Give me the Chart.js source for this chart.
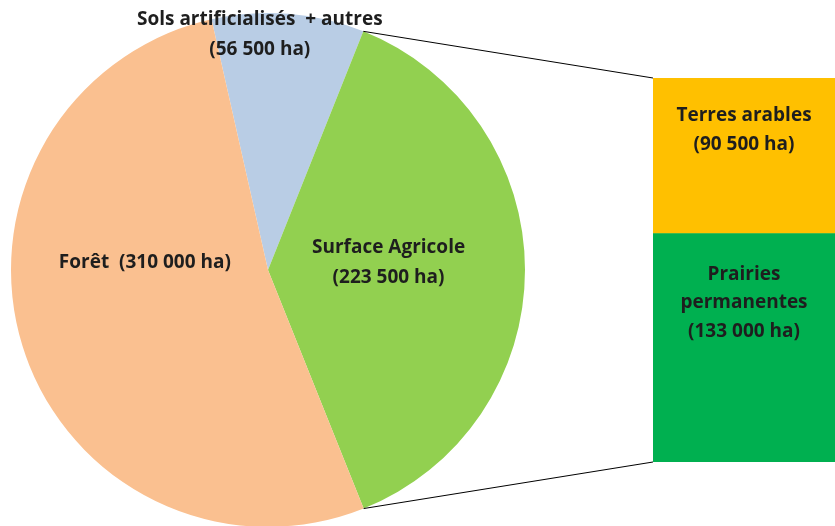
<!DOCTYPE html>
<html>
<head>
<meta charset="utf-8">
<script src="https://cdn.jsdelivr.net/npm/chart.js@4"></script>
<style>
  body { margin: 0; background: #fff; width: 835px; height: 526px; overflow: hidden; position: relative; }
  canvas { position: absolute; }
  #pie { left: 0; top: 0; }
  #bar { left: 653px; top: 78px; }
  #links { left: 0; top: 0; pointer-events: none; }
</style>
</head>
<body>
<canvas id="pie" width="540" height="540"></canvas>
<canvas id="bar" width="182" height="384"></canvas>
<canvas id="links" width="835" height="526"></canvas>
<script>
// pie : occupation du sol
const pieLabels = ["Sols artificialisés  + autres", "Surface Agricole", "Forêt"];
const pieValues = [56500, 223500, 310000];
const pieColors = ["#B9CDE5", "#92D050", "#FAC090"];

// barre : détail de la surface agricole
const barLabels = ["Prairies permanentes", "Terres arables"];
const barValues = [133000, 90500];
const barColors = ["#00B050", "#FFC000"];

const FONT = "bold 19px 'Open Sans', Lato, sans-serif";
const TEXT_COLOR = "#1e1e1e";

function ha(v) {
  return "(" + String(v).replace(/\B(?=(\d{3})+(?!\d))/g, " ") + " ha)";
}

function drawLines(ctx, lines, x, y, lh) {
  ctx.save();
  ctx.font = FONT;
  ctx.fillStyle = TEXT_COLOR;
  ctx.textAlign = "center";
  ctx.textBaseline = "middle";
  lines.forEach((t, i) => ctx.fillText(t, x, y + i * lh));
  ctx.restore();
}

// texte des parts du camembert (angle depuis le haut, fraction du rayon)
const pieLabelPlugin = {
  id: "pieLabels",
  afterDatasetsDraw(chart) {
    const pos = [[-2, 0.915], [86.5, 0.47], [273.5, 0.48]];
    const lines = [
      [pieLabels[0], ha(pieValues[0])],
      [pieLabels[1], ha(pieValues[1])],
      [pieLabels[2] + "  " + ha(pieValues[2])]
    ];
    chart.getDatasetMeta(0).data.forEach((arc, i) => {
      const a = pos[i][0] * Math.PI / 180;
      const r = arc.outerRadius * pos[i][1];
      const cx = arc.x + r * Math.sin(a);
      const cy = arc.y - r * Math.cos(a);
      const lh = 30;
      drawLines(chart.ctx, lines[i], cx, cy - (lines[i].length - 1) * lh / 2, lh);
    });
  }
};

const barLabelPlugin = {
  id: "barLabels",
  afterDatasetsDraw(chart) {
    const lines = [
      ["Prairies", "permanentes", ha(barValues[0])],
      ["Terres arables", ha(barValues[1])]
    ];
    const offsets = [41, 38];
    chart.data.datasets.forEach((ds, i) => {
      const bar = chart.getDatasetMeta(i).data[0];
      const top = Math.min(bar.y, bar.base);
      drawLines(chart.ctx, lines[i], bar.x, top + offsets[i], 28.5);
    });
  }
};

const pieChart = new Chart(document.getElementById("pie"), {
  type: "pie",
  data: {
    labels: pieLabels,
    datasets: [{
      data: pieValues,
      backgroundColor: pieColors,
      borderWidth: 0
    }]
  },
  options: {
    responsive: false,
    animation: false,
    rotation: -12.7,
    layout: { padding: { left: 11, top: 13, right: 15, bottom: 13 } },
    plugins: { legend: { display: false }, tooltip: { enabled: false } }
  },
  plugins: [pieLabelPlugin]
});

const barChart = new Chart(document.getElementById("bar"), {
  type: "bar",
  data: {
    labels: ["Surface Agricole"],
    datasets: barLabels.map((l, i) => ({
      label: l,
      data: [barValues[i]],
      backgroundColor: barColors[i],
      borderWidth: 0,
      barPercentage: 1,
      categoryPercentage: 1
    }))
  },
  options: {
    responsive: false,
    animation: false,
    layout: { padding: 0 },
    scales: {
      x: { stacked: true, display: false },
      y: { stacked: true, display: false, min: 0, max: barValues[0] + barValues[1] }
    },
    plugins: { legend: { display: false }, tooltip: { enabled: false } }
  },
  plugins: [barLabelPlugin]
});

// traits reliant la part agricole à la barre
function drawLinks() {
  const ctx = document.getElementById("links").getContext("2d");
  const pr = document.getElementById("pie").getBoundingClientRect();
  const br = document.getElementById("bar").getBoundingClientRect();
  const arc = pieChart.getDatasetMeta(0).data[1];
  const p1 = [pr.left + arc.x + arc.outerRadius * Math.cos(arc.startAngle),
              pr.top + arc.y + arc.outerRadius * Math.sin(arc.startAngle)];
  const p2 = [pr.left + arc.x + arc.outerRadius * Math.cos(arc.endAngle),
              pr.top + arc.y + arc.outerRadius * Math.sin(arc.endAngle)];
  const bottom = barChart.getDatasetMeta(0).data[0];
  const top = barChart.getDatasetMeta(1).data[0];
  const left = br.left + top.x - top.width / 2;
  ctx.strokeStyle = "#000";
  ctx.lineWidth = 1;
  ctx.beginPath();
  ctx.moveTo(p1[0], p1[1]);
  ctx.lineTo(left, br.top + top.y);
  ctx.moveTo(p2[0], p2[1]);
  ctx.lineTo(left, br.top + bottom.base);
  ctx.stroke();
}
drawLinks();
</script>
</body>
</html>
